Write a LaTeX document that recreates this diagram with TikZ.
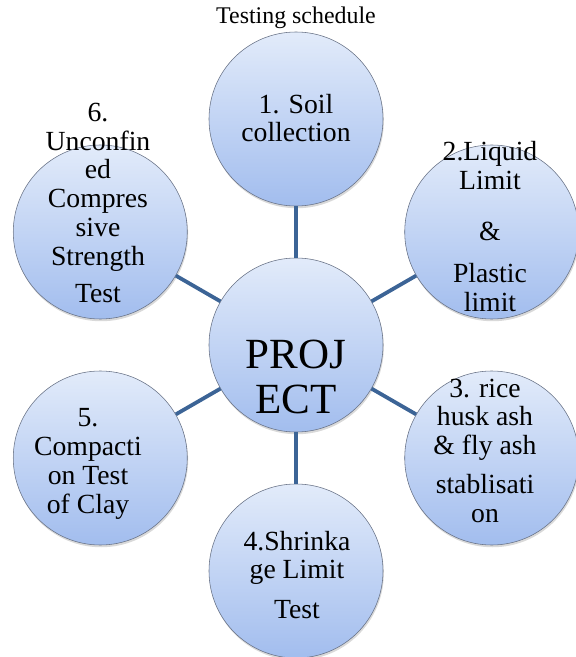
\documentclass[tikz,border=0pt]{standalone}
\usepackage{fontspec}
\setmainfont{Liberation Serif}
\usetikzlibrary{shadows}
\definecolor{linkblue}{RGB}{60,100,150}
\definecolor{ringgray}{RGB}{104,114,134}
\definecolor{ballTop}{RGB}{226,235,250}
\definecolor{ballBot}{RGB}{162,189,238}
\tikzset{ball/.style={circle, minimum size=4.35cm, inner sep=0pt, draw=ringgray, thin,
  top color=ballTop, bottom color=ballBot,
  drop shadow={shadow xshift=.6pt, shadow yshift=-1.6pt, opacity=.3}}}
\tikzset{txt/.style={align=center, inner sep=0pt, font=\fontsize{19.7}{20.5}\selectfont}}
\tikzset{link/.style={draw=linkblue, line width=2.7pt}}

\begin{document}
\begin{tikzpicture}
    \useasboundingbox (-7.4, -7.8) rectangle (6.975, 8.625);
    \node[font=\fontsize{17}{20}\selectfont] (title) at (0, 8.19) {Testing schedule};
    \node[ball] (proj) at (0, 0) {};
    \node[ball] (soil) at (90:5.65) {};
    \node[ball] (limits) at (30:5.65) {};
    \node[ball] (ash) at (-30:5.65) {};
    \node[ball] (shrink) at (-90:5.65) {};
    \node[ball] (compact) at (-150:5.65) {};
    \node[ball] (ucs) at (150:5.65) {};
    \draw[link] (proj) -- (soil);
    \draw[link] (proj) -- (limits);
    \draw[link] (proj) -- (ash);
    \draw[link] (proj) -- (shrink);
    \draw[link] (proj) -- (compact);
    \draw[link] (proj) -- (ucs);
    \node[txt, font=\fontsize{30.6}{32}\selectfont] (projT) at (0, -.79) {PROJ\\ECT};
    \node[txt] (soilT) at (0, 5.675) {1. Soil\\collection};
    \node[txt] (limitsT) at (4.85, 2.96) {2.Liquid\\Limit\\[16pt]\&\\[9pt]Plastic\\limit};
    \node[txt] (ashT) at (4.725, -2.64) {3. rice\\husk ash\\\& fly ash\\[7pt]stablisati\\on};
    \node[txt] (shrinkT) at (.025, -5.75) {4.Shrinka\\ge Limit\\[8pt]Test};
    \node[txt] (compactT) at (-5.2, -2.975) {5.\\Compacti\\on Test\\of Clay};
    \node[txt] (ucsT) at (-4.95, 3.55) {6.\\Unconfin\\ed\\Compres\\sive\\Strength\\[6pt]Test};
\end{tikzpicture}
\end{document}
